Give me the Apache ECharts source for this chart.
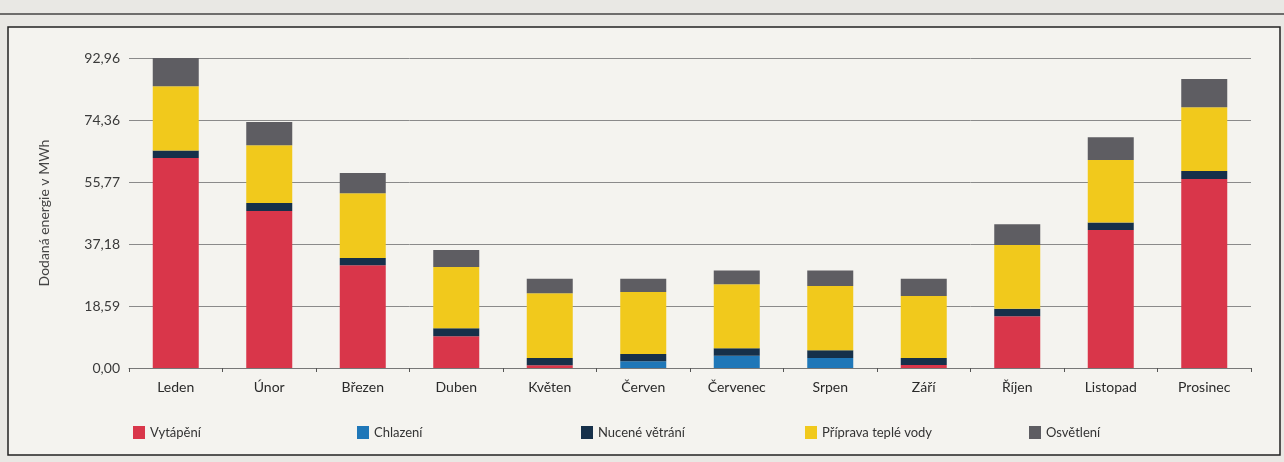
<!DOCTYPE html>
<html>
<head>
<meta charset="utf-8">
<script src="https://cdn.jsdelivr.net/npm/echarts@6/dist/echarts.min.js"></script>
<style>
html,body{margin:0;padding:0;background:#e9e8e4;}
#c{width:1284px;height:462px;}
</style>
</head>
<body>
<div id="c"></div>
<script>
const categories = ['Leden','Únor','Březen','Duben','Květen','Červen','Červenec','Srpen','Září','Říjen','Listopad','Prosinec'];
const vytapeni = [63.0, 47.1, 30.8, 9.5, 0.8, 0, 0, 0, 0.9, 15.5, 41.4, 56.7];
const chlazeni = [0, 0, 0, 0, 0, 2.0, 3.7, 3.0, 0, 0, 0, 0];
const vetrani = [2.2, 2.4, 2.2, 2.4, 2.2, 2.2, 2.2, 2.3, 2.1, 2.3, 2.2, 2.4];
const voda = [19.3, 17.3, 19.4, 18.4, 19.4, 18.6, 19.2, 19.3, 18.6, 19.1, 18.8, 19.1];
const osvetleni = [8.45, 7.0, 6.1, 5.1, 4.4, 4.0, 4.1, 4.6, 5.2, 6.2, 6.8, 8.5];
const yTickLabels = ['0,00','18,59','37,18','55,77','74,36','92,96'];
const seriesNames = ['Vytápění','Chlazení','Nucené větrání','Příprava teplé vody','Osvětlení'];
const seriesColors = ['#d9364a','#1f77b8','#16304a','#f1c91c','#5e5d62'];
const seriesData = [vytapeni, chlazeni, vetrani, voda, osvetleni];

const yMax = 92.96;
const yInterval = yMax / 5;
const font = 'Lato, "Open Sans", sans-serif';

const chart = echarts.init(document.getElementById('c'), null, {renderer:'canvas'});
const legendLefts = [128, 352, 576, 800, 1024];
const option = {
  backgroundColor: 'transparent',
  animation: false,
  graphic: [
    {type:'rect', shape:{x:8, y:27, width:1272, height:428}, style:{fill:'#f4f3ef', stroke:'#222', lineWidth:1.5}, z:-10},
    {type:'line', shape:{x1:0, y1:14, x2:1284, y2:14}, style:{stroke:'#444', lineWidth:1.5}, z:-10}
  ],
  grid: {left:129, right:33, top:58, bottom:94, containLabel:false},
  legend: seriesNames.map((n,i)=>({
    data:[n], left:legendLefts[i], top:421, itemWidth:12, itemHeight:13, icon:'rect',
    itemGap:5, textStyle:{fontFamily:font, fontSize:13, color:'#333'}, selectedMode:false
  })),
  xAxis: {
    type:'category', data:categories,
    axisLine:{lineStyle:{color:'#777', width:1}},
    axisTick:{show:true, length:4, lineStyle:{color:'#555'}},
    axisLabel:{fontFamily:font, fontSize:14, color:'#2a2a2a', margin:12}
  },
  yAxis: {
    type:'value', min:0, max:yMax, interval:yInterval,
    name:'Dodaná energie v MWh', nameLocation:'middle', nameGap:78, nameRotate:90,
    nameTextStyle:{fontFamily:font, fontSize:14, color:'#444'},
    axisLine:{show:false}, axisTick:{show:false},
    splitLine:{lineStyle:{color:'#8a8a8a', width:1}},
    axisLabel:{fontFamily:font, fontSize:14, color:'#3a3a3a', margin:9,
      formatter:(v)=>yTickLabels[Math.round(v/yInterval)] || ''}
  },
  series: seriesNames.map((n,i)=>({
    name:n, type:'bar', stack:'total', barWidth:46,
    itemStyle:{color:seriesColors[i]},
    data:seriesData[i]
  }))
};
chart.setOption(option);
</script>
</body>
</html>
